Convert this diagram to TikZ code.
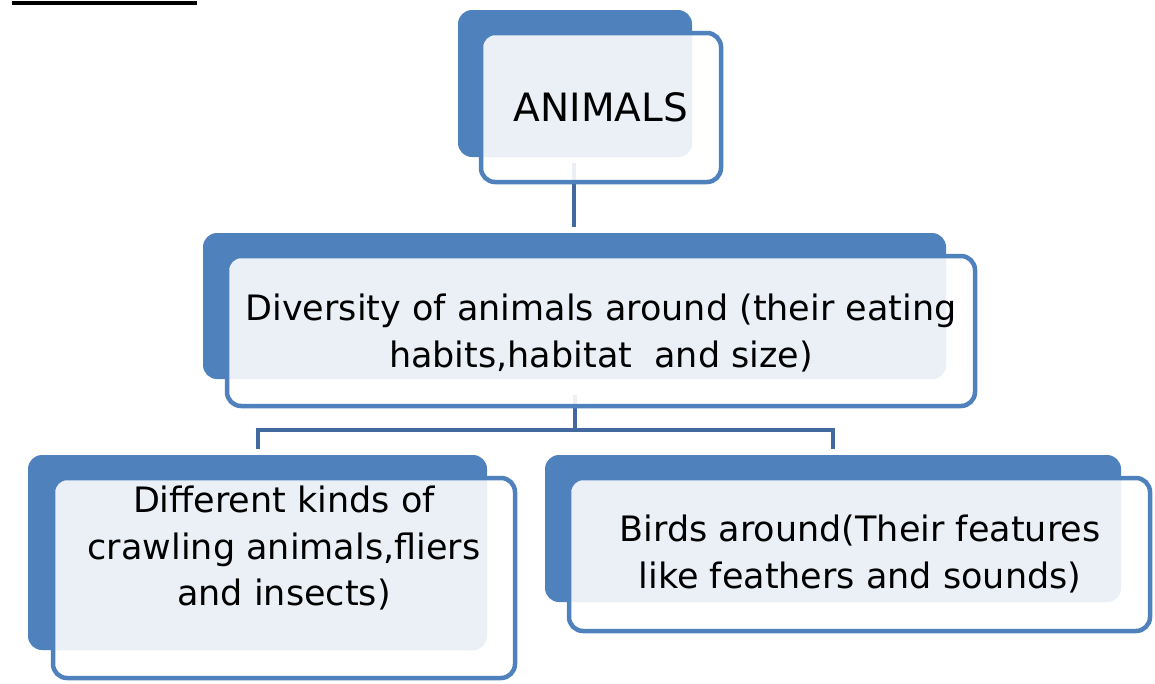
\documentclass[tikz,border=0pt]{standalone}
\usepackage{fontspec}
\setmainfont{DejaVu Sans}
\definecolor{backblue}{HTML}{4F81BD}
\definecolor{lightfill}{HTML}{EBF0F7}
\definecolor{connblue}{HTML}{41699F}
\newcommand{\boxpair}[8]{%
  \fill[backblue,rounded corners=14pt] (#1,#2) rectangle (#3,#4);
  \fill[white,opacity=0.9,rounded corners=14pt] (#5,#6) rectangle (#7,#8);
  \begin{scope}
    \clip[rounded corners=14pt] (#1,#2) rectangle (#3,#4);
    \fill[lightfill,rounded corners=14pt] (#5,#6) rectangle (#7,#8);
  \end{scope}
  \draw[backblue,line width=4.5pt,rounded corners=14pt] (#5,#6) rectangle (#7,#8);
}
\tikzset{
  conn/.style={connblue,line width=4.5pt},
  txt/.style={align=center,inner sep=0pt,text=black,font=\fontsize{35}{46.5}\selectfont},
}
\begin{document}
\begin{tikzpicture}[x=1pt,y=-1pt]
\useasboundingbox (0,0) rectangle (1155,683);
\draw[black,line width=4pt] (12,3) -- (197,3);
% connector coordinates
\coordinate (c1) at (574,163);
\coordinate (c2) at (574,227);
\coordinate (m1) at (575,395);
\coordinate (m2) at (575,430);
\coordinate (d1) at (258,449);
\coordinate (d2) at (833,449);
\draw[conn] (c1) -- (c2);
\draw[conn] (m1) -- (m2);
\draw[conn] (d1) |- (m2) -| (d2);
% boxes
\boxpair{458}{10}{692}{157}{481}{33}{721}{182}
\boxpair{203}{233}{946}{379}{227}{256}{975}{406}
\boxpair{28}{455}{487}{650}{53}{478}{515}{678}
\boxpair{545}{455}{1121}{602}{569}{478}{1150}{631}
% texts
\node[txt,anchor=base,font=\fontsize{39}{40}\selectfont] (t1) at (601,121) {ANIMALS};
\node[txt] (t2) at (601,333) {Diversity of animals around (their eating\\habits,habitat\ \ and size)};
\node[txt] (t3) at (284,548) {Different kinds of\\crawling animals,fliers\\and insects)};
\node[txt] (t4) at (860,554) {Birds around(Their features\\like feathers and sounds)};
\end{tikzpicture}
\end{document}
